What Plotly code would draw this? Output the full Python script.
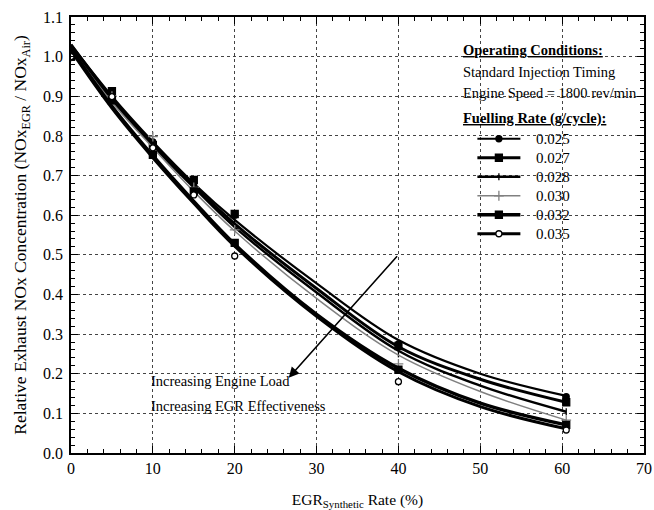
import plotly.graph_objects as go

# ---- data ----
rates = ["0.025", "0.027", "0.028", "0.030", "0.032", "0.035"]

# measured points
egr_pts = [0, 5, 10, 15, 20, 40, 60.5]
pts_025 = [1.00, 0.905, 0.785, 0.680, 0.600, 0.275, 0.142]
pts_027 = [1.00, 0.913, 0.777, 0.689, 0.603, 0.270, 0.128]
pts_028 = [1.00, 0.900, 0.780, 0.675, 0.584, 0.250, 0.104]
pts_030 = [1.00, 0.900, 0.798, 0.670, 0.563, 0.225, 0.083]
pts_032 = [1.00, 0.890, 0.752, 0.660, 0.530, 0.210, 0.071]
pts_035 = [1.00, 0.899, 0.770, 0.651, 0.497, 0.180, 0.058]

# fitted curves
egr_fit = [0, 5, 10, 15, 20, 30, 40, 50, 60.5]
fit_025 = [1.030, 0.900, 0.785, 0.680, 0.588, 0.428, 0.285, 0.200, 0.144]
fit_027 = [1.030, 0.895, 0.780, 0.675, 0.578, 0.415, 0.268, 0.186, 0.128]
fit_028 = [1.025, 0.890, 0.775, 0.670, 0.570, 0.405, 0.258, 0.170, 0.104]
fit_030 = [1.020, 0.885, 0.770, 0.660, 0.560, 0.390, 0.247, 0.155, 0.083]
fit_032 = [1.020, 0.875, 0.750, 0.635, 0.527, 0.350, 0.214, 0.126, 0.071]
fit_035 = [1.015, 0.870, 0.745, 0.630, 0.522, 0.345, 0.205, 0.117, 0.061]

x_ticks = [0, 10, 20, 30, 40, 50, 60, 70]
y_ticks = [0.0, 0.1, 0.2, 0.3, 0.4, 0.5, 0.6, 0.7, 0.8, 0.9, 1.0, 1.1]

pts = [pts_025, pts_027, pts_028, pts_030, pts_032, pts_035]
fits = [fit_025, fit_027, fit_028, fit_030, fit_032, fit_035]

# ---- styles ----
line_w = [2.2, 3.0, 2.4, 1.5, 3.4, 3.0]
line_c = ["black", "black", "black", "#808080", "black", "black"]
m_sym = ["circle", "square", "line-ns", "cross-thin", "square", "circle"]
m_size = [6, 7, 5, 7, 7, 6]
m_fill = ["black", "black", "black", "#808080", "black", "white"]

SERIF = "Liberation Serif, Times New Roman, serif"

fig = go.Figure()
for i, r in enumerate(rates):
    fig.add_trace(go.Scatter(
        x=egr_fit, y=fits[i], mode="lines", line=dict(color=line_c[i], width=line_w[i], shape="spline", smoothing=1.0),
        showlegend=False, hoverinfo="skip"))
    fig.add_trace(go.Scatter(
        x=egr_pts, y=pts[i], mode="markers",
        marker=dict(symbol=m_sym[i], size=m_size[i], color=m_fill[i],
                    line=dict(color=line_c[i], width=1.3)),
        showlegend=False))
# legend entries
for i, r in enumerate(rates):
    fig.add_trace(go.Scatter(
        x=[None], y=[None], mode="lines+markers",
        name='<span style="font-size:15px">\u00a0\u00a0\u2009' + r + '</span>',
        line=dict(color=line_c[i], width=line_w[i]),
        marker=dict(symbol=m_sym[i], size=m_size[i], color=m_fill[i],
                    line=dict(color=line_c[i], width=1.3))))

axis_common = dict(
    showline=True, linecolor="black", linewidth=1.6, mirror="allticks",
    ticks="inside", ticklen=7, tickwidth=1.2, tickcolor="black",
    showgrid=True, gridcolor="#444", griddash="dot", gridwidth=1,
    zeroline=False, automargin=False,
    tickfont=dict(family=SERIF, size=16, color="black"),
)

fig.update_xaxes(
    range=[0, 70], tickvals=x_ticks, ticktext=[str(v) for v in x_ticks],
    minor=dict(ticks="inside", ticklen=4, dtick=2, tickcolor="black", showgrid=False),
    title=dict(text="EGR<sub>Synthetic</sub> Rate (%)", font=dict(family=SERIF, size=15.5, color="black"), standoff=18),
    **axis_common)
fig.update_yaxes(
    range=[0, 1.1], tickvals=y_ticks, ticktext=["%.1f" % v for v in y_ticks],
    minor=dict(ticks="inside", ticklen=4, dtick=0.02, tickcolor="black", showgrid=False),
    title=dict(text="Relative Exhaust NOx Concentration (NOx<sub>EGR</sub> / NOx<sub>Air</sub>)",
               font=dict(family=SERIF, size=17.5, color="black"), standoff=12),
    ticklabelstandoff=3,
    **axis_common)

ann_font = dict(family=SERIF, size=14.5, color="black")
annotations = [
    dict(x=47.6, y=1.017, text="<b><u>Operating Conditions:</u></b>"),
    dict(x=47.6, y=0.961, text="Standard Injection Timing"),
    dict(x=47.6, y=0.908, text="Engine Speed = 1800 rev/min"),
    dict(x=47.6, y=0.845, text="<b><u>Fuelling Rate (g/cycle):</u></b>"),
    dict(x=9.5, y=0.182, text="Increasing Engine Load"),
    dict(x=9.5, y=0.119, text="Increasing EGR Effectiveness"),
]
anns = []
for a in annotations:
    anns.append(dict(xref="x", yref="y", xanchor="left", yanchor="middle", showarrow=False, font=ann_font, **a))
anns.append(dict(xref="x", yref="y", x=26.6, y=0.19, ax=40, ay=0.5, axref="x", ayref="y",
                 showarrow=True, arrowhead=2, arrowsize=1.3, arrowwidth=1.6, arrowcolor="black", text=""))

fig.update_layout(
    width=654, height=510,
    margin=dict(l=71, r=10, t=17, b=57, autoexpand=False),
    paper_bgcolor="white", plot_bgcolor="white",
    annotations=anns,
    legend=dict(x=0.7005, y=0.754, xanchor="left", yanchor="top", bgcolor="rgba(0,0,0,0)",
                font=dict(family=SERIF, size=12.3, color="black"), itemwidth=43,
                tracegroupgap=0, borderwidth=0),
    font=dict(family=SERIF),
)

fig.write_html("out.html")
